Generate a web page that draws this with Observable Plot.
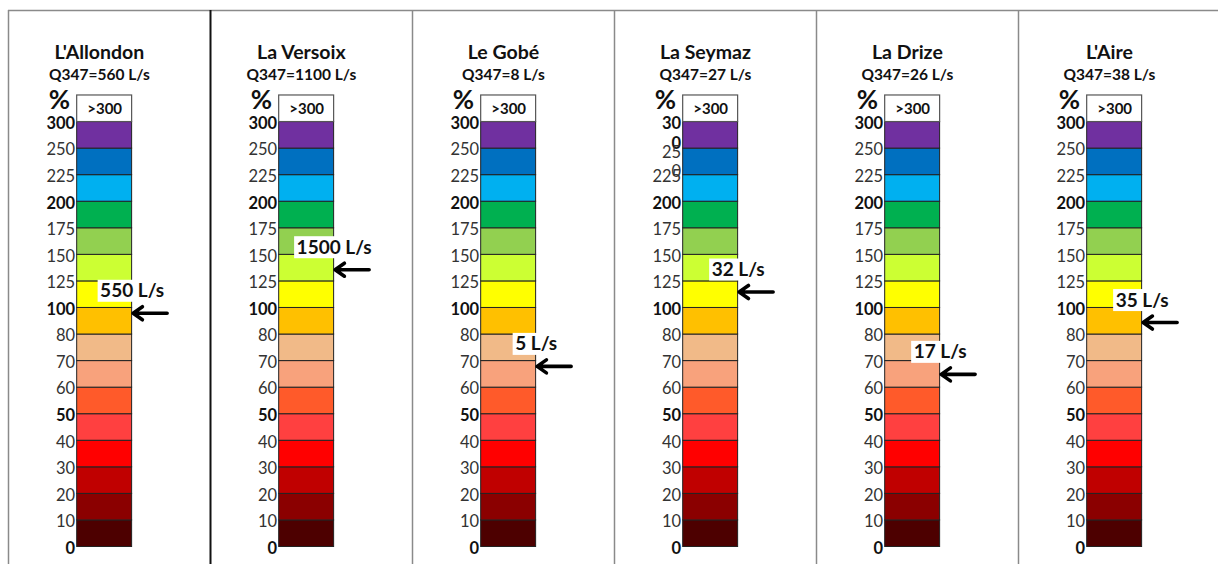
<!DOCTYPE html>
<html>
<head>
<meta charset="utf-8">
<script src="https://cdn.jsdelivr.net/npm/d3@7"></script>
<script src="https://cdn.jsdelivr.net/npm/@observablehq/plot@0.6"></script>
<style>
  html, body { margin: 0; padding: 0; background: #fff; overflow: hidden; }
</style>
</head>
<body>
<div id="chart"></div>
<script>
// ---------- data ----------
const rivers = ["L'Allondon", "La Versoix", "Le Gobé", "La Seymaz", "La Drize", "L'Aire"];
const q347 = [560, 1100, 8, 27, 26, 38];            // L/s
const measured = [550, 1500, 5, 32, 17, 35];         // L/s shown by the arrow
const arrowPct = [96, 136, 68, 115, 65, 89];         // arrow position in % of Q347
const tickValues = [0, 10, 20, 30, 40, 50, 60, 70, 80, 100, 125, 150, 175, 200, 225, 250, 300];
const boldTicks = [0, 50, 100, 200, 300];
const wrappedTicksSeymaz = [300, 250];               // labels that wrap onto two lines in the source
const bandColors = ["#4d0000", "#8b0000", "#c00000", "#ff0000", "#ff4040", "#ff5a2a",
                    "#f8a27c", "#f1ba88", "#ffc000", "#ffff00", "#ccff33", "#92d050",
                    "#00b050", "#00b0f0", "#0070c0", "#7030a0"];

// ---------- layout ----------
const W = 1218, H = 564;
const panelLeft = 8, panelWidth = 202;
const yBottom = 546.5, bandPx = 26.56;
const nSlots = tickValues.length;        // 16 bands + ">300" box
const barL = 0.34, barR = 0.612;
const pxX = 1 / panelWidth, pxY = 1 / bandPx;

const bands = d3.pairs(tickValues).map(([a, b]) => `${a}–${b}`);
const cells = [];
rivers.forEach((r, i) => bands.forEach((b, k) => cells.push({i, k, band: b})));
const panels = rivers.map((r, i) => ({i, river: r}));

const tickRows = [];
rivers.forEach((r, i) => tickValues.forEach((t, j) => tickRows.push({
  i, j, t,
  bold: boldTicks.includes(t),
  wrapped: r === "La Seymaz" && wrappedTicksSeymaz.includes(t)
})));

const pctToSlot = d3.scaleLinear().domain(tickValues).range(d3.range(tickValues.length));
const ctx = document.createElement("canvas").getContext("2d");
ctx.font = "bold 19px Lato";
const arrows = rivers.map((r, i) => {
  const label = `${measured[i]} L/s`;
  return {i, s: pctToSlot(arrowPct[i]), label, w: ctx.measureText(label).width + 4};
});

const tickOpts = {x: d => d.i + barL, y: "j", textAnchor: "end", dx: -2, dy: 1.5, fontSize: 16.5};

const chart = Plot.plot({
  width: W, height: H,
  marginTop: 10, marginBottom: 0, marginLeft: 8, marginRight: 0,
  x: {domain: [0, 6], range: [panelLeft, panelLeft + 6 * panelWidth], axis: null},
  y: {domain: [0, nSlots], range: [yBottom, yBottom - nSlots * bandPx], axis: null},
  color: {domain: bands, range: bandColors},
  style: {fontFamily: "Lato, 'Open Sans', sans-serif", background: "white", overflow: "visible"},
  marks: [
    // panel frame
    Plot.ruleY([(yBottom - 10) / bandPx], {stroke: "#8a8a8a", strokeWidth: 1.5}),
    Plot.ruleX([0, 2, 3, 4, 5], {stroke: "#8a8a8a", strokeWidth: 1.5}),
    Plot.ruleX([1], {stroke: "#111", strokeWidth: 2}),
    // titles
    Plot.text(panels, {x: d => d.i + 0.45, frameAnchor: "top", lineAnchor: "middle", dy: 42,
      text: "river", fontWeight: "bold", fontSize: 19.5, fill: "#111"}),
    Plot.text(panels, {x: d => d.i + 0.45, frameAnchor: "top", lineAnchor: "middle", dy: 65,
      text: d => `Q347=${q347[d.i]} L/s`, fontWeight: "bold", fontSize: 15.5, fill: "#111"}),
    // colour bands
    Plot.rect(cells, {x1: d => d.i + barL, x2: d => d.i + barR, y1: "k", y2: d => d.k + 1,
      fill: "band", stroke: "#222", strokeWidth: 1}),
    // >300 box
    Plot.rect(panels, {x1: d => d.i + barL, x2: d => d.i + barR, y1: nSlots - 1, y2: nSlots,
      fill: "white", stroke: "#555", strokeWidth: 1.2}),
    Plot.text(panels, {x: d => d.i + (barL + barR) / 2, y: nSlots - 0.5, text: () => ">300",
      fontWeight: "bold", fontSize: 15, fill: "#111"}),
    // % sign
    Plot.text(panels, {x: d => d.i + barL, y: nSlots - 0.18, text: () => "%", textAnchor: "end",
      dx: -7, fontSize: 26, fontWeight: "bold", fill: "#111"}),
    // tick labels
    Plot.text(tickRows.filter(d => !d.bold && !d.wrapped), {...tickOpts, text: d => String(d.t), fill: "#333"}),
    Plot.text(tickRows.filter(d => d.bold && !d.wrapped), {...tickOpts, text: d => String(d.t), fontWeight: "bold", fill: "#111"}),
    Plot.text(tickRows.filter(d => d.wrapped && d.bold), {...tickOpts, text: d => String(d.t).slice(0, 2) + "\n" + String(d.t).slice(2),
      lineAnchor: "top", dy: -7, lineHeight: 1.2, fontWeight: "bold", fill: "#111"}),
    Plot.text(tickRows.filter(d => d.wrapped && !d.bold), {...tickOpts, text: d => String(d.t).slice(0, 2) + "\n" + String(d.t).slice(2),
      lineAnchor: "top", dy: -5, lineHeight: 1.2, fill: "#333"}),
    // value labels with white box
    Plot.rect(arrows, {x1: d => d.i + barR - d.w / 2 * pxX, x2: d => d.i + barR + d.w / 2 * pxX,
      y1: d => d.s + 11 * pxY, y2: d => d.s + 33 * pxY, fill: "white"}),
    Plot.text(arrows, {x: d => d.i + barR, y: d => d.s + 22 * pxY, text: "label",
      fontWeight: "bold", fontSize: 19, fill: "#111"}),
    // arrows
    Plot.arrow(arrows, {x1: d => d.i + barR + 35 * pxX, x2: d => d.i + barR + 1 * pxX, y1: "s", y2: "s",
      stroke: "black", strokeWidth: 3.6, headLength: 9, headAngle: 70})
  ]
});
document.getElementById("chart").appendChild(chart);
</script>
</body>
</html>
